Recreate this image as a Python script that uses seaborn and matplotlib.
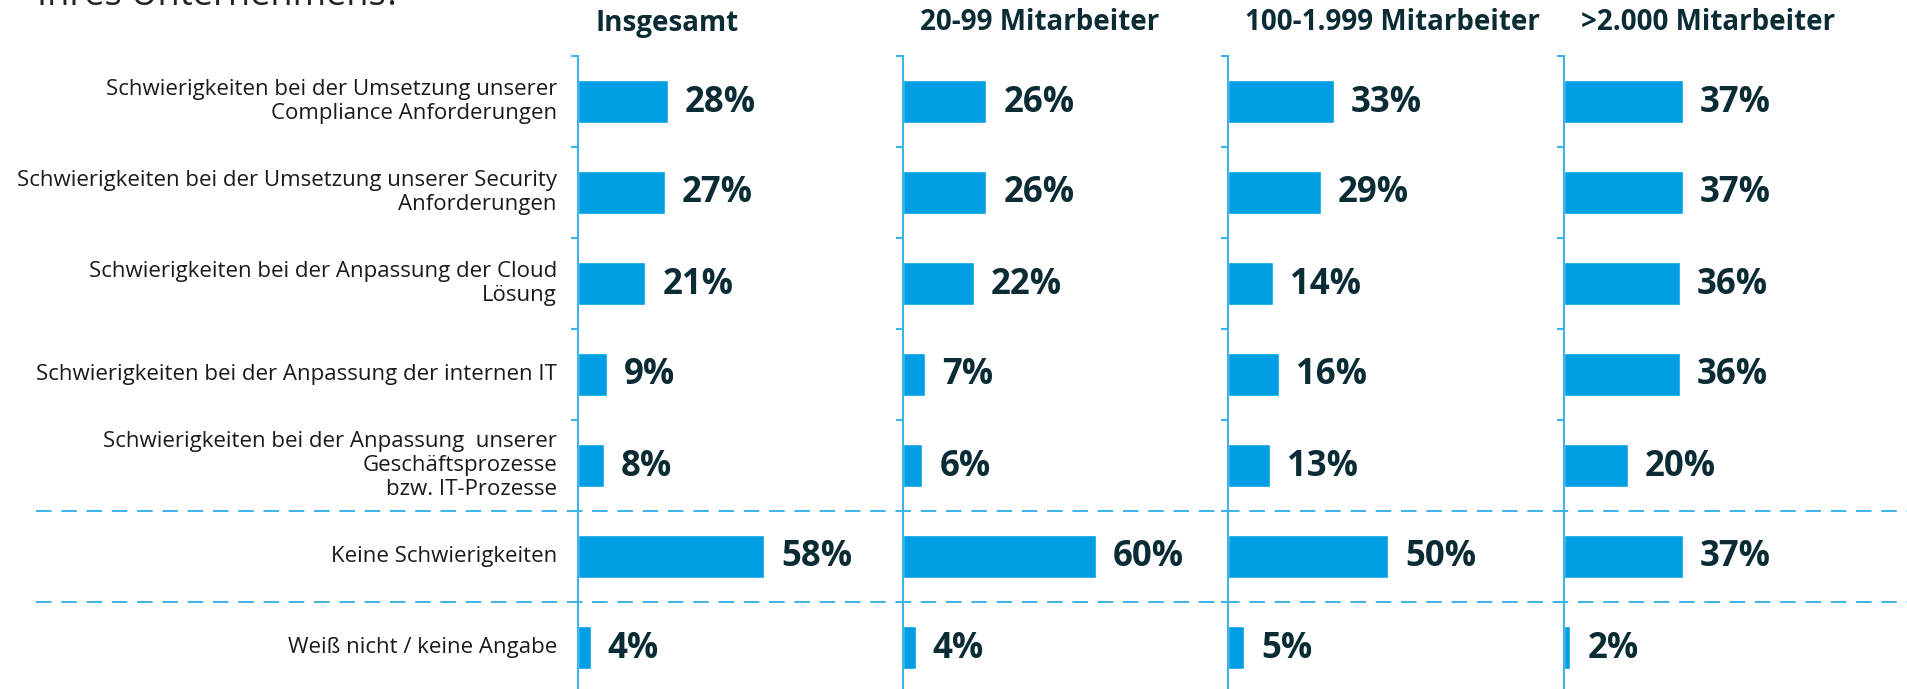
import matplotlib
matplotlib.use("Agg")
import matplotlib.pyplot as plt
import matplotlib.transforms as mtransforms
from matplotlib.lines import Line2D
import numpy as np
import pandas as pd
import seaborn as sns

# Daten
categories = [
    "Schwierigkeiten bei der Umsetzung unserer\nCompliance Anforderungen",
    "Schwierigkeiten bei der Umsetzung unserer Security\nAnforderungen",
    "Schwierigkeiten bei der Anpassung der Cloud\nLösung",
    "Schwierigkeiten bei der Anpassung der internen IT",
    "Schwierigkeiten bei der Anpassung  unserer\nGeschäftsprozesse\nbzw. IT-Prozesse",
    "Keine Schwierigkeiten",
    "Weiß nicht / keine Angabe",
]
groups = ["Insgesamt", "20-99 Mitarbeiter", "100-1.999 Mitarbeiter", ">2.000 Mitarbeiter"]
insgesamt = [28, 27, 21, 9, 8, 58, 4]
ma_20_99 = [26, 26, 22, 7, 6, 60, 4]
ma_100_1999 = [33, 29, 14, 16, 13, 50, 5]
ma_2000 = [37, 37, 36, 36, 20, 37, 2]
title_tail = "Ihres Unternehmens?"

series = [insgesamt, ma_20_99, ma_100_1999, ma_2000]

sns.set_theme(style="white")
plt.rcParams["font.family"] = ["Open Sans", "DejaVu Sans"]

BAR = "#009fe3"
AXIS = "#3db3e8"
DARK = "#0b2b35"

W, H = 1908, 689
fig = plt.figure(figsize=(W / 100, H / 100), dpi=100)

# Achsen in Pixeln
lefts = [578, 903, 1228, 1564]
ax_w = 300
top_px, bottom_px = 56, 693

axes = []
for k, (name, vals) in enumerate(zip(groups, series)):
    ax = fig.add_axes([lefts[k] / W, (H - bottom_px) / H, ax_w / W, (bottom_px - top_px) / H])
    df = pd.DataFrame({"kat": categories, "wert": vals})
    sns.barplot(data=df, y="kat", x="wert", orient="h", color=BAR, saturation=1,
                width=0.47, ax=ax)
    ax.set_xlim(0, 93.5)
    ax.set_ylim(len(categories) - 0.5, -0.5)
    ax.set_xlabel("")
    ax.set_ylabel("")
    ax.set_xticks([])
    ax.set_yticks(np.arange(len(categories) + 1) - 0.5)
    ax.set_yticklabels([])
    ax.tick_params(axis="y", direction="out", length=5, width=1.5, color=AXIS, left=True)
    for s in ["top", "right", "bottom"]:
        ax.spines[s].set_visible(False)
    ax.spines["left"].set_color(AXIS)
    ax.spines["left"].set_linewidth(1.5)
    ax.patch.set_alpha(0)

    for i, v in enumerate(vals):
        ax.annotate(f"{v}%", xy=(v, i), xytext=(17, -1), textcoords="offset pixels",
                    ha="left", va="center", fontsize=25, fontweight="bold", color=DARK)

    # Spaltenüberschrift, ca. 23 px unter dem oberen Bildrand
    ax.annotate(name, xy=(0, 1), xycoords="axes fraction", xytext=(17, top_px - 23),
                textcoords="offset pixels", ha="left", va="center",
                fontsize=20, fontweight="bold", color=DARK, annotation_clip=False)
    axes.append(ax)

# Kategorienbeschriftung links
ax0 = axes[0]
for i, cat in enumerate(categories):
    ax0.annotate(cat, xy=(0, i), xycoords=("axes fraction", "data"), xytext=(-21, 0),
                 textcoords="offset pixels", ha="right", va="center", fontsize=16,
                 color="#1a1a1a", linespacing=1.2, annotation_clip=False)

# gestrichelte Trennlinien
tr = mtransforms.blended_transform_factory(fig.transFigure, ax0.transData)
for yb in [4.5, 5.5]:
    fig.add_artist(Line2D([36 / W, 1], [yb, yb], transform=tr, color=AXIS,
                          linewidth=1.4, linestyle=(0, (8, 5)), zorder=0))

# abgeschnittener Titel oben
fig.text(37 / W, 1 - 5 / H, title_tail, ha="left", va="baseline", fontsize=26,
         color="#222222")

fig.savefig("out.png", dpi=100)
